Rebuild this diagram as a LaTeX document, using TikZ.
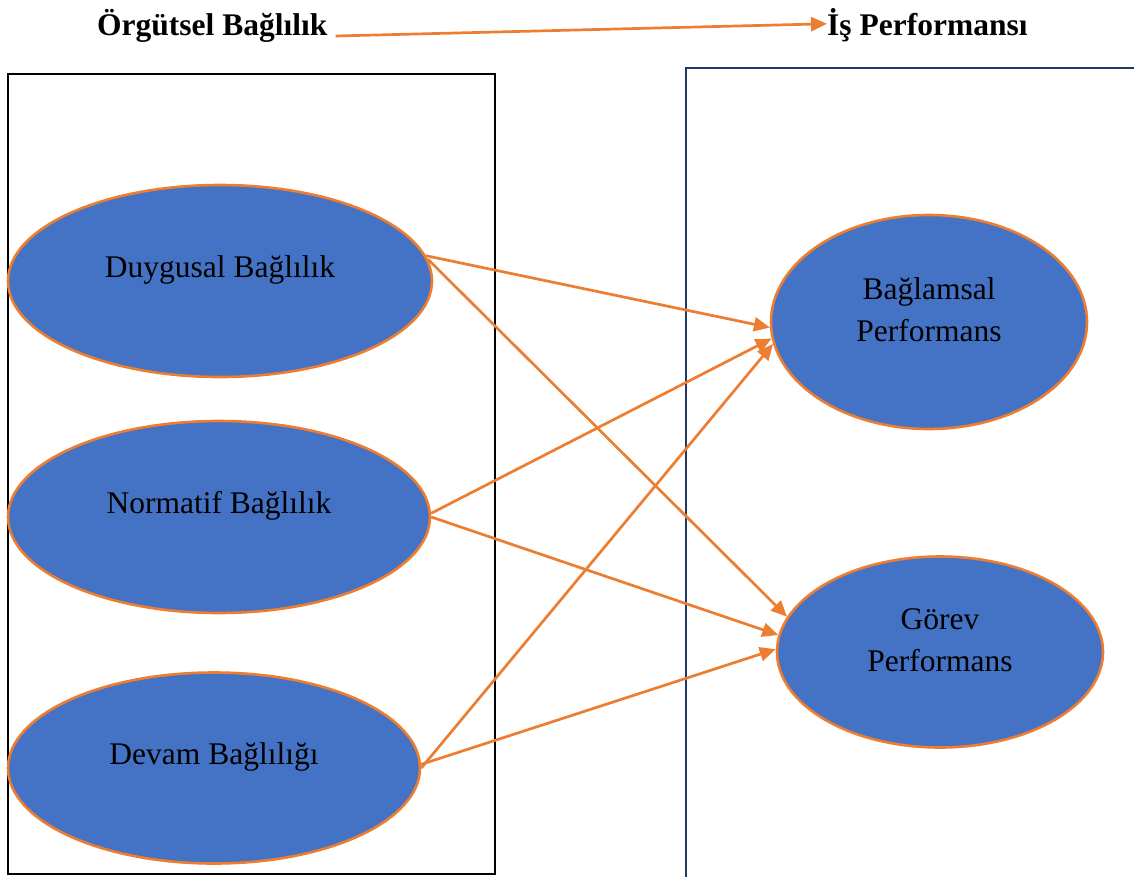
\documentclass[tikz,border=0pt]{standalone}
\usepackage{fontspec}
\setmainfont{Liberation Serif}
\usetikzlibrary{shapes.geometric,arrows.meta}
\definecolor{ellfill}{HTML}{4472C4}
\definecolor{orng}{HTML}{ED7D31}
\definecolor{navy}{HTML}{1F3864}
\tikzset{
  ell/.style={ellipse, draw=orng, line width=2.6pt, fill=ellfill, inner sep=0pt},
  elltext/.style={align=center, inner sep=0pt, font=\fontsize{31.5}{42}\selectfont},
  conn/.style={draw=orng, line width=2.7pt, -{Triangle[length=16pt,width=14pt]}},
  ttl/.style={font=\fontsize{31.5}{36}\selectfont\bfseries, inner sep=0pt, anchor=base west},
  boxline/.style={line width=2.9pt}
}
\begin{document}
\begin{tikzpicture}[x=1pt,y=-1pt]
\useasboundingbox (0,0) rectangle (1134,876);
% boxes
\draw[boxline, black] (8,74) rectangle (495,874);
\draw[boxline, navy] (686,880) -- (686,68) -- (1140,68);
% titles
\node[ttl] (org) at (97,35) {Örgütsel Bağlılık};
\node[ttl] (is) at (827,35) {İş Performansı};
\coordinate (orgA) at ([xshift=8pt,yshift=-1pt]org.base east);
\draw[conn] (orgA) -- ([yshift=1pt]is.west);
% ellipses
\node[ell, minimum width=424pt, minimum height=192pt] (duy) at (220,281) {};
\node[ell, minimum width=422pt, minimum height=192pt] (nor) at (219,517) {};
\node[ell, minimum width=412pt, minimum height=191pt] (dev) at (214,768) {};
\node[ell, minimum width=316pt, minimum height=214pt] (bag) at (929,322) {};
\node[ell, minimum width=326pt, minimum height=191pt] (gor) at (940,652) {};
\node[elltext] (duyT) at (220,270) {Duygusal Bağlılık};
\node[elltext] (norT) at (219,506) {Normatif Bağlılık};
\node[elltext] (devT) at (214,757) {Devam Bağlılığı};
\node[elltext] (bagT) at (929,310) {Bağlamsal\\Performans};
\node[elltext] (gorT) at (940,640) {Görev\\Performans};
% connectors
\draw[conn] (duy.7) -- (bag.182);
\draw[conn] (duy.6) -- (gor.167);
\draw[conn] (nor.1) -- (bag.186);
\draw[conn] (nor.0) -- (gor.174);
\draw[conn] (dev.0) -- (bag.188);
\draw[conn] (dev.1) -- (gor.179);
\end{tikzpicture}
\end{document}
